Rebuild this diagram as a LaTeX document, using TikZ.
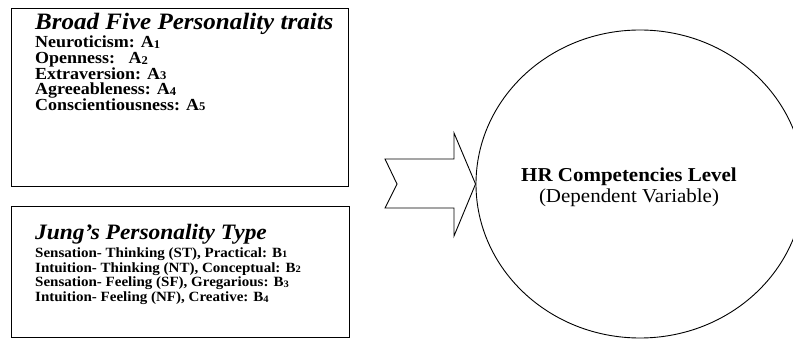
\documentclass[tikz,border=0pt]{standalone}
\usepackage{fontspec}
\setmainfont[FakeStretch=1.065]{Liberation Serif}
\usetikzlibrary{shapes.geometric, positioning}

\tikzset{
    traitbox/.style={draw, line width=1.3pt, anchor=north west, inner sep=0pt},
    traittitle/.style={anchor=base west, inner sep=0pt, font=\bfseries\itshape},
    traittext/.style={anchor=north west, align=left, inner sep=0pt, font=\bfseries,
        execute at begin node={\lineskiplimit=-20pt\lineskip=0pt}}
}
\newcommand{\ix}[1]{\raisebox{0.12em}{\textsubscript{#1}}}

\begin{document}
\begin{tikzpicture}[x=1pt, y=-1pt]
    \useasboundingbox (0,0) rectangle (793,339);
    \clip (0,0) rectangle (793,339);

    % independent variables
    \node[traitbox, minimum width=337pt, minimum height=178pt] (bigfive) at (11,8) {};
    \node[traittitle, font=\fontsize{23.5}{26}\bfseries\itshape] (bigfivetitle) at (35,29.5)
        {Broad Five Personality traits};
    \node[traittext, font=\fontsize{16.9}{15.6}\bfseries] (bigfivetxt) at (35,36)
        {Neuroticism: A\ix{1}\\
         Openness:\ \ \ A\ix{2}\\
         Extraversion: A\ix{3}\\
         Agreeableness: A\ix{4}\\
         Conscientiousness: A\ix{5}};

    \node[traitbox, minimum width=338pt, minimum height=131pt] (jung) at (11,206) {};
    \node[traittitle, font=\fontsize{22}{24}\bfseries\itshape] (jungtitle) at (35,240)
        {Jung's Personality Type};
    \node[traittext, font=\fontsize{14.1}{14.8}\bfseries] (jungtxt) at (35,247.3)
        {Sensation- Thinking (ST), Practical: B\ix{1}\\
         Intuition- Thinking (NT), Conceptual: B\ix{2}\\
         Sensation- Feeling (SF), Gregarious: B\ix{3}\\
         Intuition- Feeling (NF), Creative: B\ix{4}};

    % dependent variable
    \node[draw, ellipse, line width=0.9pt, minimum width=328pt, minimum height=308pt] (hr) at (640,184) {};
    \node[align=center, inner sep=0pt, font=\fontsize{19.7}{21}\selectfont] (hrlabel)
        at ([xshift=-11pt, yshift=-3.6pt]hr.center)
        {\textbf{HR Competencies Level}\\(Dependent Variable)};

    % block arrow
    \coordinate (tip) at (hr.west);
    \draw[line width=0.9pt, fill=white] (385,159) -- (454,159) -- (454,133) -- (tip)
        -- (454,236) -- (454,208) -- (385,208) -- (397,184) -- cycle;
\end{tikzpicture}
\end{document}
